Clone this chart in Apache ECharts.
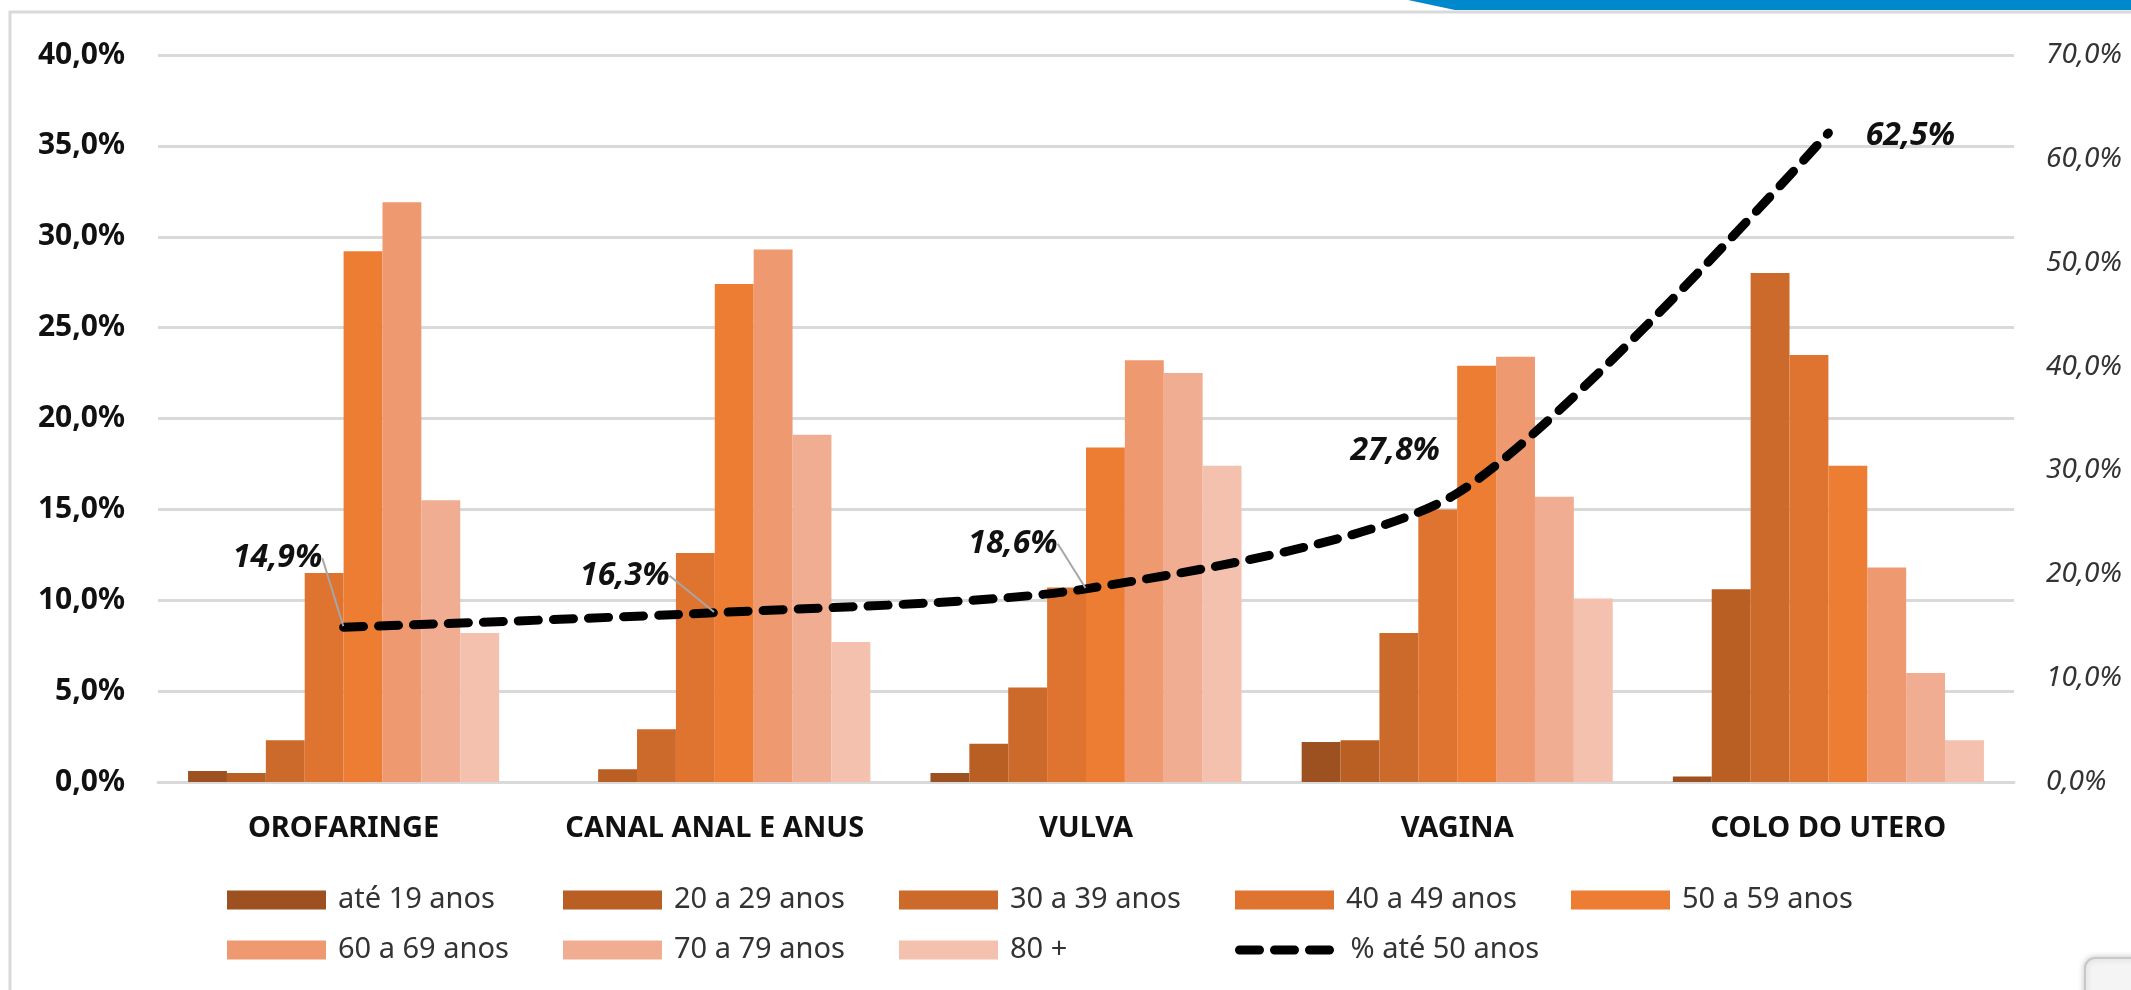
<!DOCTYPE html>
<html>
<head>
<meta charset="utf-8">
<script src="https://cdn.jsdelivr.net/npm/echarts@6/dist/echarts.min.js"></script>
<style>
  body { margin: 0; background: #fff; }
  #chart { width: 2131px; height: 990px; }
</style>
</head>
<body>
<div id="chart"></div>
<script>
const categories = ['OROFARINGE', 'CANAL ANAL E ANUS', 'VULVA', 'VAGINA', 'COLO DO UTERO']
const ageGroups = ['até 19 anos', '20 a 29 anos', '30 a 39 anos', '40 a 49 anos', '50 a 59 anos',
  '60 a 69 anos', '70 a 79 anos', '80 +']

// % por faixa etaria, uma lista por faixa (ordem das categorias)
const ate19 = [0.6, 0.0, 0.5, 2.2, 0.3]
const de20a29 = [0.5, 0.7, 2.1, 2.3, 10.6]
const de30a39 = [2.3, 2.9, 5.2, 8.2, 28.0]
const de40a49 = [11.5, 12.6, 10.7, 15.0, 23.5]
const de50a59 = [29.2, 27.4, 18.4, 22.9, 17.4]
const de60a69 = [31.9, 29.3, 23.2, 23.4, 11.8]
const de70a79 = [15.5, 19.1, 22.5, 15.7, 6.0]
const mais80 = [8.2, 7.7, 17.4, 10.1, 2.3]

const lineName = '% até 50 anos'
const ate50 = [14.9, 16.3, 18.6, 27.8, 62.5]

const leftTicks = {min: 0, max: 40, interval: 5}
const rightTicks = {min: 0, max: 70, interval: 10}

const barValues = [ate19, de20a29, de30a39, de40a49, de50a59, de60a69, de70a79, mais80]
const barColors = ['#9E5120', '#B95F24', '#CB6A2A', '#DE742F', '#EC7D33', '#EF9970', '#F1AD92', '#F4C1AF']

// deslocamento dos rotulos da linha (dx, dy) e se tem linha guia
const labelShift = [[-66, -69, true], [-90, -37, true], [-73, -45, true], [-62, -42, false], [82, 3, false]]

const pct = (v) => v.toFixed(1).replace('.', ',') + '%'
const font = 'Noto Sans'
const dash = {color: '#000', width: 9, type: [20, 15], cap: 'round'}

let chart = echarts.init(document.getElementById('chart'))

let series = barValues.map((vals, i) => ({
  name: ageGroups[i],
  type: 'bar',
  data: vals,
  barGap: 0,
  barCategoryGap: '16.2%',
  itemStyle: {color: barColors[i]},
  emphasis: {disabled: true}
}))

series.push({
  name: lineName,
  type: 'line',
  yAxisIndex: 1,
  data: ate50.map((v, i) => ({value: v, labelLine: {show: labelShift[i][2]}})),
  smooth: 0.25,
  symbol: 'circle',
  symbolSize: 2,
  itemStyle: {color: '#000'},
  lineStyle: dash,
  z: 5,
  label: {
    show: true,
    position: 'inside',
    formatter: (p) => pct(p.value),
    fontFamily: font,
    fontSize: 32,
    fontWeight: 'bold',
    fontStyle: 'italic',
    color: '#111'
  },
  labelLine: {show: true, lineStyle: {color: '#a6a6a6', width: 2}},
  labelLayout: (p) => ({dx: labelShift[p.dataIndex][0], dy: labelShift[p.dataIndex][1]}),
  emphasis: {disabled: true}
})

const legendBase = {
  left: 227,
  orient: 'horizontal',
  padding: 0,
  itemWidth: 99,
  itemHeight: 19,
  itemGap: 10,
  selectedMode: false,
  textStyle: {fontFamily: font, fontSize: 29, color: '#333', width: 215, padding: [0, 0, 0, 7], lineHeight: 30},
  lineStyle: dash
}

let option = {
  animation: false,
  backgroundColor: '#fff',
  grid: {left: 158, right: 117, top: 55, bottom: 208},
  xAxis: {
    type: 'category',
    data: categories,
    axisTick: {show: false},
    axisLine: {lineStyle: {color: '#d9d9d9', width: 3}},
    axisLabel: {interval: 0, fontFamily: font, fontSize: 29, fontWeight: 'bold', color: '#111', margin: 32}
  },
  yAxis: [
    {
      type: 'value',
      min: leftTicks.min,
      max: leftTicks.max,
      interval: leftTicks.interval,
      axisLabel: {formatter: pct, fontFamily: font, fontSize: 30, fontWeight: 'bold', color: '#111', margin: 33},
      splitLine: {lineStyle: {color: '#d9d9d9', width: 3}}
    },
    {
      type: 'value',
      min: rightTicks.min,
      max: rightTicks.max,
      interval: rightTicks.interval,
      axisLabel: {formatter: pct, fontFamily: font, fontSize: 28, fontStyle: 'italic', color: '#333', margin: 32},
      splitLine: {show: false}
    }
  ],
  legend: [
    Object.assign({}, legendBase, {
      top: 885,
      data: ageGroups.slice(0, 5).map(n => ({name: n, icon: 'rect'}))
    }),
    Object.assign({}, legendBase, {
      top: 935,
      data: ageGroups.slice(5).map(n => ({name: n, icon: 'rect'}))
        .concat([{name: lineName, itemStyle: {opacity: 0}}])
    })
  ],
  graphic: [
    {
      type: 'rect',
      silent: true,
      shape: {x: 10, y: 12, width: 2300, height: 1200},
      style: {fill: 'none', stroke: '#d9d9d9', lineWidth: 3}
    },
    {
      type: 'polygon',
      silent: true,
      shape: {points: [[1408, 0], [2131, 0], [2131, 10], [1455, 10]]},
      style: {fill: '#0088cc'}
    },
    {
      type: 'rect',
      silent: true,
      shape: {x: 2085, y: 958, width: 80, height: 60, r: 10},
      style: {fill: '#f4f4f4', stroke: '#c8c8c8', lineWidth: 2, shadowBlur: 6, shadowColor: 'rgba(0,0,0,0.2)'}
    }
  ],
  series: series
}

chart.setOption(option)
</script>
</body>
</html>
